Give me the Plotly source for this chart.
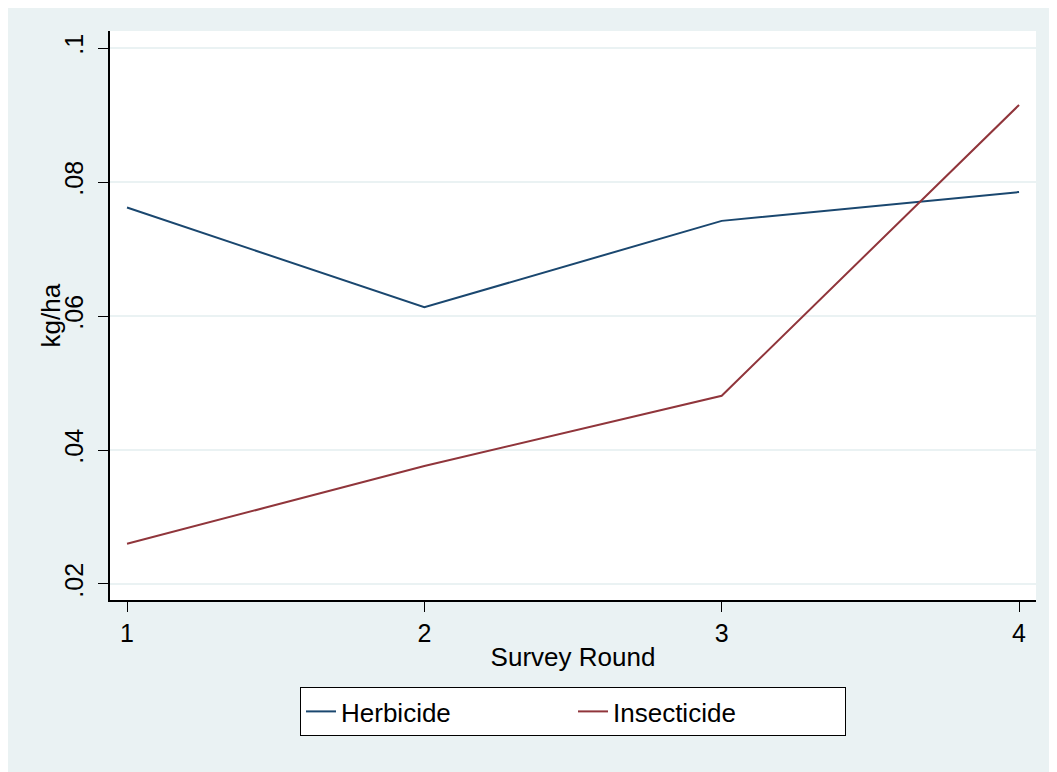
import plotly.graph_objects as go

rounds = [1, 2, 3, 4]
herbicide = [0.0762, 0.0613, 0.0742, 0.0785]
insecticide = [0.0260, 0.0376, 0.0481, 0.0915]
y_ticks = [0.02, 0.04, 0.06, 0.08, 0.1]
y_tick_labels = [".02", ".04", ".06", ".08", ".1"]
x_ticks = [1, 2, 3, 4]
y_title = "kg/ha"
x_title = "Survey Round"

BG = "#eaf2f3"
FONT = "Liberation Sans, Arial, Helvetica, sans-serif"

fig = go.Figure()
fig.add_trace(go.Scatter(x=rounds, y=herbicide, mode="lines", name="Herbicide",
                         line=dict(color="#1a476f", width=2)))
fig.add_trace(go.Scatter(x=rounds, y=insecticide, mode="lines", name="Insecticide",
                         line=dict(color="#90353b", width=2)))

W, H = 1049, 764
L, R, T, B = 102, 21, 23, 172
pw, ph = W - L - R, H - T - B

fig.update_layout(
    width=W, height=H,
    margin=dict(l=L, r=R, t=T, b=B, autoexpand=False),
    paper_bgcolor=BG,
    plot_bgcolor="white",
    font=dict(family=FONT, size=26, color="black"),
    showlegend=True,
    legend=dict(orientation="h", x=0.5, xanchor="center", y=-(679 - 592) / ph, yanchor="top",
                bgcolor="white", bordercolor="black", borderwidth=1,
                font=dict(size=26), entrywidth=227, entrywidthmode="pixels"),
)
fig.add_annotation(text=y_title, textangle=-90, xref="paper", yref="paper",
                   x=(42 - L) / pw, y=0.5, xanchor="center", yanchor="middle",
                   showarrow=False, font=dict(size=26))
fig.update_xaxes(range=[0.9428, 4.057], tickvals=x_ticks, ticks="outside", ticklen=10,
                 tickcolor="black", tickwidth=1.2, showline=True, linecolor="black", linewidth=1.5,
                 showgrid=False, zeroline=False, ticklabelstandoff=0, automargin=False,
                 tickfont=dict(size=25),
                 title=dict(text=x_title, font=dict(size=26), standoff=2))
fig.update_yaxes(range=[0.01761, 0.10254], tickvals=y_ticks, ticktext=y_tick_labels,
                 tickangle=-90, ticks="outside", ticklen=10, tickcolor="black", tickwidth=1.2,
                 showline=True, linecolor="black", linewidth=1.5, automargin=False,
                 tickfont=dict(size=25),
                 showgrid=True, gridcolor=BG, gridwidth=1.5, zeroline=False, ticklabelstandoff=5)

fig.write_html("out.html")
